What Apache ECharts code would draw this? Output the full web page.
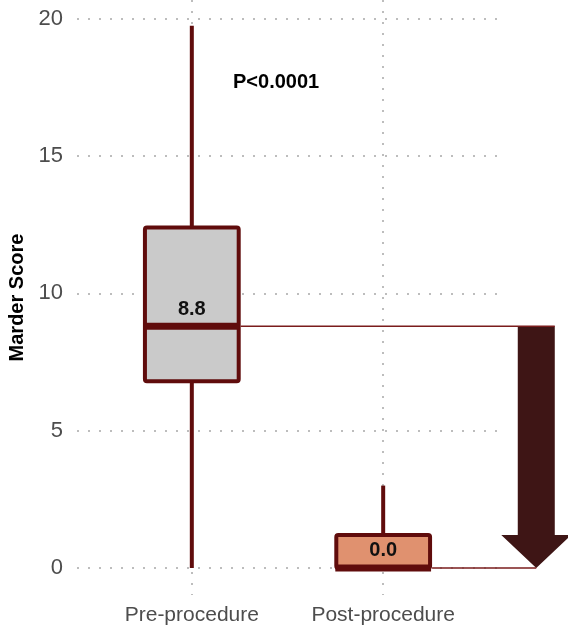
<!DOCTYPE html>
<html>
<head>
<meta charset="utf-8">
<style>
  html, body { margin: 0; padding: 0; background: #ffffff; }
  #chart { width: 568px; height: 628px; }
</style>
<script src="https://cdn.jsdelivr.net/npm/echarts@6/dist/echarts.min.js"></script>
</head>
<body>
<div id="chart"></div>
<script>
// Marder score before and after the procedure (box summaries)
const categories = ['Pre-procedure', 'Post-procedure'];
const whiskerLow = [0, 0];
const quartile1 = [6.8, 0];
const medians = [8.8, 0.0];
const quartile3 = [12.4, 1.2];
const whiskerHigh = [19.75, 3.0];
const yTicks = [0, 5, 10, 15, 20];
const pValueText = 'P<0.0001';

const FONT = '"Liberation Sans", Arial, sans-serif';
const BORDER = '#600c0c';
const FILLS = ['#cacaca', '#e0916f'];
const ARROW_COLOR = '#3e1515';
const LINK_COLOR = '#7a1c1c';
const BOX_WIDTH = 0.49;
const ARROW_X = 2.80;

const boxData = categories.map((c, i) => [i + 1, whiskerLow[i], quartile1[i], medians[i], quartile3[i], whiskerHigh[i]]);

function renderBox(params, api) {
  const i = params.dataIndex;
  const x = api.value(0);
  const lo = api.coord([x, api.value(1)]);
  const q1 = api.coord([x, api.value(2)]);
  const md = api.coord([x, api.value(3)]);
  const q3 = api.coord([x, api.value(4)]);
  const hi = api.coord([x, api.value(5)]);
  const w = api.size([BOX_WIDTH, 0])[0];
  return {
    type: 'group',
    children: [
      { type: 'line', shape: { x1: lo[0], y1: lo[1], x2: hi[0], y2: hi[1] },
        style: { stroke: BORDER, lineWidth: 4 } },
      { type: 'rect', shape: { x: md[0] - w / 2, y: q3[1], width: w, height: q1[1] - q3[1], r: 2 },
        style: { fill: FILLS[i], stroke: BORDER, lineWidth: 4 } },
      { type: 'line', shape: { x1: md[0] - w / 2 - 1, y1: md[1], x2: md[0] + w / 2 + 1, y2: md[1] },
        style: { stroke: BORDER, lineWidth: 7 } },
      { type: 'text', style: { text: api.value(3).toFixed(1), x: md[0], y: md[1] - 17,
        align: 'center', verticalAlign: 'middle', font: 'bold 20px ' + FONT, fill: '#111111' } }
    ]
  };
}

function renderArrow(params, api) {
  const w = api.size([BOX_WIDTH, 0])[0];
  const top = api.coord([ARROW_X, api.value(0)]);
  const tip = api.coord([ARROW_X, api.value(1)]);
  const preRight = api.coord([1, api.value(0)])[0] + w / 2 + 2;
  const postRight = api.coord([2, api.value(1)])[0] + w / 2 + 2;
  const cx = top[0];
  const shaftHalf = 18.5;
  const headHalf = 35;
  const headLen = 33;
  return {
    type: 'group',
    children: [
      { type: 'polygon', shape: { points: [
          [cx - shaftHalf, top[1]], [cx + shaftHalf, top[1]],
          [cx + shaftHalf, tip[1] - headLen], [cx + headHalf, tip[1] - headLen],
          [cx, tip[1]],
          [cx - headHalf, tip[1] - headLen], [cx - shaftHalf, tip[1] - headLen]
        ] }, style: { fill: ARROW_COLOR } },
      { type: 'line', shape: { x1: preRight, y1: top[1], x2: cx + shaftHalf, y2: top[1] },
        style: { stroke: LINK_COLOR, lineWidth: 1.5 } },
      { type: 'line', shape: { x1: postRight, y1: tip[1], x2: cx, y2: tip[1] },
        style: { stroke: LINK_COLOR, lineWidth: 1.5 } }
    ]
  };
}

const gridLine = { show: true, lineStyle: { color: '#bdbdbd', width: 2, type: [2, 9] } };

const chart = echarts.init(document.getElementById('chart'), null, { renderer: 'canvas' });
chart.setOption({
  animation: false,
  backgroundColor: '#ffffff',
  grid: { left: 77, right: 70, top: 0, bottom: 33, containLabel: false, outerBoundsMode: 'none' },
  xAxis: {
    type: 'value',
    min: 0.4,
    max: 2.6,
    axisLine: { show: false },
    axisTick: { show: false, customValues: [1, 2] },
    axisLabel: {
      customValues: [1, 2],
      formatter: v => categories[Math.round(v) - 1] || '',
      color: '#4d4d4d',
      fontFamily: FONT,
      fontSize: 21,
      margin: 10
    },
    splitLine: gridLine
  },
  yAxis: {
    type: 'value',
    min: -0.985,
    max: 20.685,
    name: 'Marder Score',
    nameLocation: 'middle',
    nameRotate: 90,
    nameGap: 44,
    nameTextStyle: { color: '#000000', fontWeight: 'bold', fontSize: 20, fontFamily: FONT },
    axisLine: { show: false },
    axisTick: { show: false, customValues: yTicks },
    axisLabel: {
      customValues: yTicks,
      color: '#4d4d4d',
      fontFamily: FONT,
      fontSize: 22,
      margin: 14
    },
    splitLine: gridLine
  },
  graphic: [{
    type: 'text',
    left: 233,
    top: 72,
    style: { text: pValueText, font: 'bold 20px ' + FONT, fill: '#000000' }
  }],
  series: [
    {
      type: 'custom',
      renderItem: renderArrow,
      clip: false,
      data: [[medians[0], medians[1]]],
      z: 2
    },
    {
      type: 'custom',
      renderItem: renderBox,
      clip: false,
      data: boxData,
      z: 3
    }
  ]
});
</script>
</body>
</html>
